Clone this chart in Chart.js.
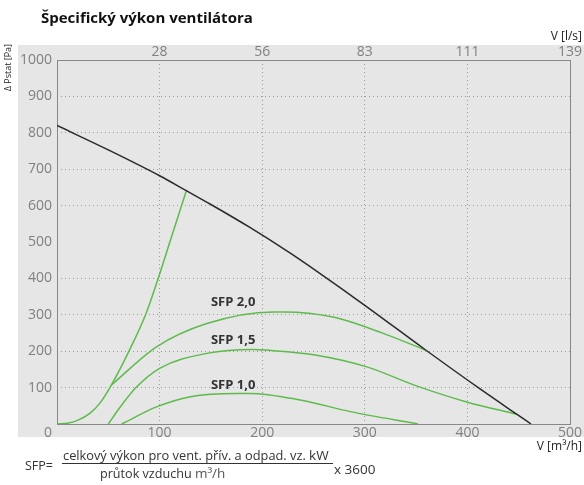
<!DOCTYPE html>
<html>
<head>
<meta charset="utf-8">
<script src="https://cdn.jsdelivr.net/npm/chart.js@4.4.1/dist/chart.umd.min.js"></script>
<style>
  body { margin: 0; background: #fff; font-family: "Open Sans", sans-serif; color: #333; }
  #wrap { position: relative; width: 584px; height: 485px; }
  #c { position: absolute; left: 0; top: 0; }
  .t { position: absolute; white-space: nowrap; }
  #title { left: 41px; top: 7px; font-size: 15px; font-weight: bold; color: #111; }
  #sfp { left: 25px; top: 457px; font-size: 12.5px; }
  #num { left: 63px; top: 446px; font-size: 12.8px; }
  #num span { font-size: 13.5px; }
  #bar { position: absolute; left: 62px; top: 463px; width: 271px; height: 1px; background: #333; }
  #den { left: 100px; top: 464px; font-size: 12.6px; }
  #den span { color: #555; font-size: 13.5px; }
  #mul { left: 334px; top: 460px; font-size: 13.5px; }
</style>
</head>
<body>
<div id="wrap">
  <canvas id="c" width="584" height="485"></canvas>
  <div class="t" id="title">Špecifický výkon ventilátora</div>
  <div class="t" id="sfp">SFP=</div>
  <div class="t" id="num">celkový výkon pro vent. přív. a odpad. vz. <span>kW</span></div>
  <div id="bar"></div>
  <div class="t" id="den">průtok vzduchu <span>m³/h</span></div>
  <div class="t" id="mul">x 3600</div>
</div>
<script>
// krivka ventilatora (prietok m3/h, tlak Pa)
var fanX = [0, 50, 100, 126, 150, 188, 227, 253, 302, 358, 412, 448, 462];
var fanY = [820, 753, 682, 641, 603, 540, 470, 420, 322, 206, 97, 27, 0];

// hranicna krivka (lava)
var limitX = [0, 10, 20, 32, 42, 52, 71, 87, 99, 110, 126];
var limitY = [0, 2, 10, 29, 58, 102, 205, 305, 403, 500, 640];

// SFP krivky
var sfp20X = [53, 97, 146, 211, 221, 269, 318, 359];
var sfp20Y = [107, 212, 276, 308, 308, 294, 249, 203];
var sfp15X = [50, 62, 77, 100, 146, 191, 204, 253, 302, 351, 400, 448];
var sfp15Y = [0, 48, 100, 153, 194, 205, 203, 189, 157, 104, 60, 27];
var sfp10X = [63, 97, 130, 175, 188, 237, 286, 352];
var sfp10Y = [0, 47, 75, 84, 84, 66, 34, 0];

var sfpLabels = ['SFP 2,0', 'SFP 1,5', 'SFP 1,0'];

// popisky osi
var m3hTicks = ['', '100', '200', '300', '400', '500'];
var lsTicks = ['', '28', '56', '83', '111', '139'];
var pTicks = ['', '100', '200', '300', '400', '500', '600', '700', '800', '900', '1000'];

function pts(xs, ys) {
  return xs.map(function (x, i) { return {x: x, y: ys[i]}; });
}

var green = '#5dbb4c';
function line(data, color) {
  return {
    data: data,
    showLine: true,
    borderColor: color,
    borderWidth: 1.5,
    pointRadius: 0,
    cubicInterpolationMode: 'monotone',
    fill: false
  };
}

var tickFont = {family: 'Open Sans', size: 14};
var gridColor = function (ctx) {
  var v = ctx.tick ? ctx.tick.value : 0;
  return (v === 0 || v === 500 || v === 1000) ? 'rgba(0,0,0,0)' : '#9a9a9a';
};

// pozadie, ramik a texty
var decor = {
  id: 'decor',
  beforeDraw: function (chart) {
    var ctx = chart.ctx;
    ctx.save();
    ctx.fillStyle = '#e6e6e6';
    ctx.fillRect(18, 45, 566, 392);
    ctx.restore();
  },
  beforeDatasetsDraw: function (chart) {
    var a = chart.chartArea, ctx = chart.ctx;
    ctx.save();
    ctx.setLineDash([]);
    ctx.strokeStyle = '#888';
    ctx.lineWidth = 1;
    ctx.strokeRect(a.left + 0.5, a.top + 0.5, a.right - a.left, a.bottom - a.top);
    ctx.restore();
  },
  afterDraw: function (chart) {
    var ctx = chart.ctx, sx = chart.scales.x, sy = chart.scales.y;
    ctx.save();
    // "0" v rohu
    ctx.font = '14px "Open Sans"';
    ctx.fillStyle = '#808080';
    ctx.textAlign = 'right';
    ctx.textBaseline = 'middle';
    ctx.fillText('0', 52, 433);
    // nazvy osi
    ctx.fillStyle = '#222';
    ctx.font = '12px "Open Sans"';
    ctx.fillText('V [l/s]', 582, 37);
    ctx.fillText('V [m³/h]', 582, 447);
    ctx.save();
    ctx.translate(8, 44);
    ctx.rotate(-Math.PI / 2);
    ctx.font = '9px "Open Sans"';
    ctx.textAlign = 'right';
    ctx.fillText('Δ Pstat [Pa]', 0, 0);
    ctx.restore();
    // SFP popisky
    ctx.font = 'bold 13px "Open Sans"';
    ctx.fillStyle = '#333';
    ctx.textAlign = 'left';
    var ly = [335, 230, 107];
    sfpLabels.forEach(function (t, i) {
      ctx.fillText(t, sx.getPixelForValue(150), sy.getPixelForValue(ly[i]));
    });
    ctx.restore();
  }
};

var chart = new Chart(document.getElementById('c'), {
  type: 'scatter',
  data: {
    datasets: [
      line(pts(fanX, fanY), '#2a2a2a'),
      line(pts(limitX, limitY), green),
      line(pts(sfp20X, sfp20Y), green),
      line(pts(sfp15X, sfp15Y), green),
      line(pts(sfp10X, sfp10Y), green)
    ]
  },
  options: {
    responsive: false,
    animation: false,
    devicePixelRatio: 1,
    layout: {padding: {top: 0, right: 14, bottom: 30, left: 0}},
    plugins: {legend: {display: false}, tooltip: {enabled: false}},
    scales: {
      x: {
        type: 'linear', position: 'bottom', min: 0, max: 500,
        afterFit: function (s) { s.height = 31; },
        ticks: {stepSize: 100, font: tickFont, color: '#808080', padding: 1, maxRotation: 0,
          callback: function (v, i) { return m3hTicks[i]; }},
        grid: {color: gridColor, drawTicks: false, borderDash: [1, 3]},
        border: {display: false, dash: [1, 3]}
      },
      x2: {
        type: 'linear', position: 'top', min: 0, max: 500,
        afterFit: function (s) { s.height = 60; },
        ticks: {stepSize: 100, font: tickFont, color: '#808080', padding: 0, maxRotation: 0,
          callback: function (v, i) { return lsTicks[i]; }},
        grid: {display: false, drawTicks: false},
        border: {display: false}
      },
      y: {
        type: 'linear', min: 0, max: 1000,
        afterFit: function (s) { s.width = 57; },
        ticks: {stepSize: 100, font: tickFont, color: '#808080', padding: 5,
          callback: function (v, i) { return pTicks[i]; }},
        grid: {color: gridColor, drawTicks: false, borderDash: [1, 3]},
        border: {display: false, dash: [1, 3]}
      }
    }
  },
  plugins: [decor]
});
</script>
</body>
</html>
